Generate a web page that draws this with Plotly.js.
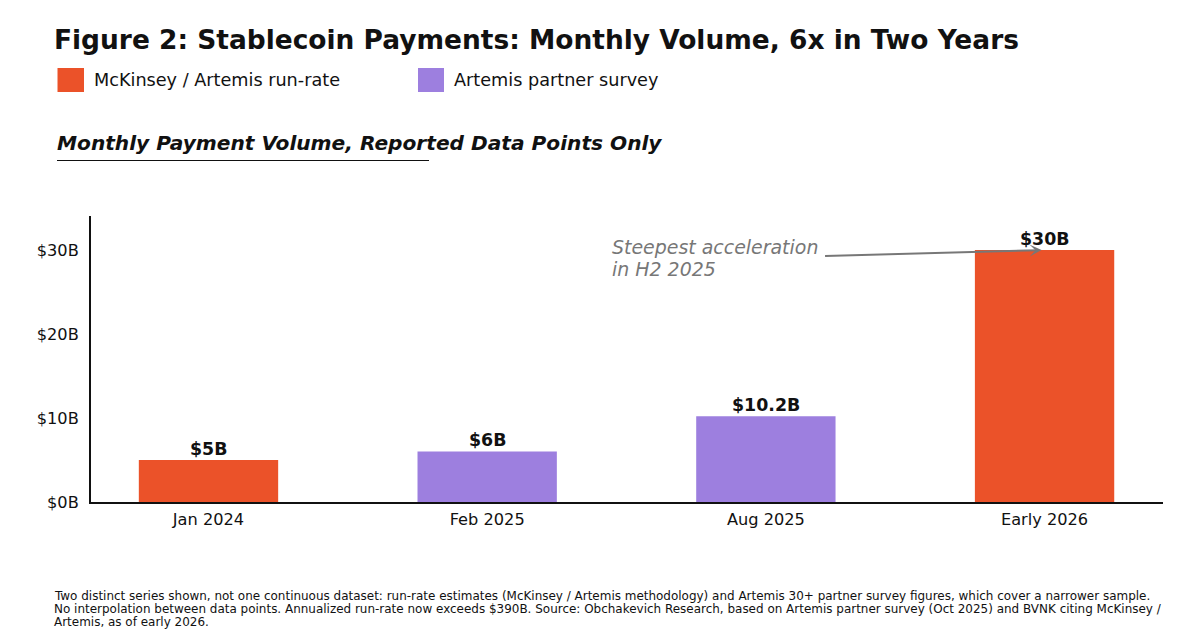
<!DOCTYPE html>
<html>
<head>
<meta charset="utf-8">
<script src="https://cdn.plot.ly/plotly-3.0.1.min.js"></script>
<style>html,body{margin:0;padding:0;background:#fff}#chart{width:1199px;height:636px}</style>
</head>
<body>
<div id="chart"></div>
<script>
const categories = ["Jan 2024", "Feb 2025", "Aug 2025", "Early 2026"];
const runRateCats = ["Jan 2024", "Early 2026"];
const runRateValues = [5, 30];
const runRateLabels = ["$5B", "$30B"];
const surveyCats = ["Feb 2025", "Aug 2025"];
const surveyValues = [6, 10.2];
const surveyLabels = ["$6B", "$10.2B"];
const tickVals = [0, 10, 20, 30];
const tickText = ["$0B", "$10B", "$20B", "$30B"];
const footnoteLines = [
  "Two distinct series shown, not one continuous dataset: run-rate estimates (McKinsey / Artemis methodology) and Artemis 30+ partner survey figures, which cover a narrower sample.",
  "No interpolation between data points. Annualized run-rate now exceeds $390B. Source: Obchakevich Research, based on Artemis partner survey (Oct 2025) and BVNK citing McKinsey /",
  "Artemis, as of early 2026."
];
const ORANGE = "#EB5229", PURPLE = "#9D7FDF", INK = "#111111", GREY = "#777777";
const FONT = "DejaVu Sans";
const W = 1199, H = 636, L = 91, R = 36, T = 216, B = 134;
const px = x => (x - L) / (W - L - R);
const py = y => (H - B - y) / (H - T - B);

function barTrace(name, x, y, color) {
  return {type: "bar", name, x, y, width: 0.5, marker: {color, line: {width: 0}}, hoverinfo: "x+y"};
}
function barLabels(xs, ys, labels) {
  return xs.map((x, i) => ({xref: "x", yref: "y", x, y: ys[i], text: "<b>" + labels[i] + "</b>",
    showarrow: false, xanchor: "center", yanchor: "middle", yshift: 11.5,
    font: {family: FONT, size: 17.4, color: INK}}));
}
function txt(x, y, text, size, color) {
  return {xref: "paper", yref: "paper", x: px(x - 2), y: py(y), text, showarrow: false,
    xanchor: "left", yanchor: "middle", align: "left",
    font: {family: FONT, size, color: color || INK}};
}
function swatch(x0, y0, x1, y1, color) {
  return {type: "rect", xref: "paper", yref: "paper", x0: px(x0), x1: px(x1), y0: py(y1), y1: py(y0),
    fillcolor: color, line: {width: 0}};
}

const layout = {
  width: W, height: H, margin: {l: L, r: R, t: T, b: B, pad: 0},
  paper_bgcolor: "#fff", plot_bgcolor: "#fff", showlegend: false, barmode: "overlay",
  font: {family: FONT, color: INK},
  xaxis: {type: "category", categoryorder: "array", categoryarray: categories, range: [-0.4216, 3.425],
    showgrid: false, showline: true, linecolor: INK, linewidth: 2, ticks: "", ticklen: 0, ticklabelstandoff: 2,
    tickfont: {family: FONT, size: 16.2, color: INK}, zeroline: false},
  yaxis: {range: [0, 34.05], tickvals: tickVals, ticktext: tickText, showgrid: false, showline: true,
    linecolor: INK, linewidth: 2, ticks: "", zeroline: false, ticklabelstandoff: 7,
    tickfont: {family: FONT, size: 16.2, color: INK}},
  shapes: [
    swatch(57.5, 68, 84, 92, ORANGE),
    swatch(418, 68, 444, 92, PURPLE),
    {type: "line", xref: "paper", yref: "paper", x0: px(57), x1: px(429), y0: py(160.5), y1: py(160.5),
      line: {color: INK, width: 1.2}}
  ],
  annotations: [
    txt(54, 39.5, "<b>Figure 2: Stablecoin Payments: Monthly Volume, 6x in Two Years</b>", 26.45),
    txt(93.5, 79.5, "McKinsey / Artemis run-rate", 17.65),
    txt(453.5, 79.5, "Artemis partner survey", 17.65),
    txt(57, 143, "<b><i>Monthly Payment Volume, Reported Data Points Only</i></b>", 20.15),
    txt(612, 247, "<i>Steepest acceleration</i>", 18.95, GREY),
    txt(612, 269, "<i>in H2 2025</i>", 18.95, GREY),
    {xref: "x", yref: "y", x: "Early 2026", y: 30, ax: -221, ay: 6, axref: "pixel", ayref: "pixel",
      text: "", showarrow: true, arrowhead: 3, arrowsize: 1, arrowwidth: 2, arrowcolor: GREY, standoff: 3},
    txt(53.5, 595.5, footnoteLines[0], 11.97),
    txt(53.5, 608.5, footnoteLines[1], 11.97),
    txt(53.5, 621.5, footnoteLines[2], 11.97),
    ...barLabels(runRateCats, runRateValues, runRateLabels),
    ...barLabels(surveyCats, surveyValues, surveyLabels)
  ]
};
Plotly.newPlot("chart", [
  barTrace("McKinsey / Artemis run-rate", runRateCats, runRateValues, ORANGE),
  barTrace("Artemis partner survey", surveyCats, surveyValues, PURPLE)
], layout, {displayModeBar: false, staticPlot: true});
</script>
</body>
</html>
